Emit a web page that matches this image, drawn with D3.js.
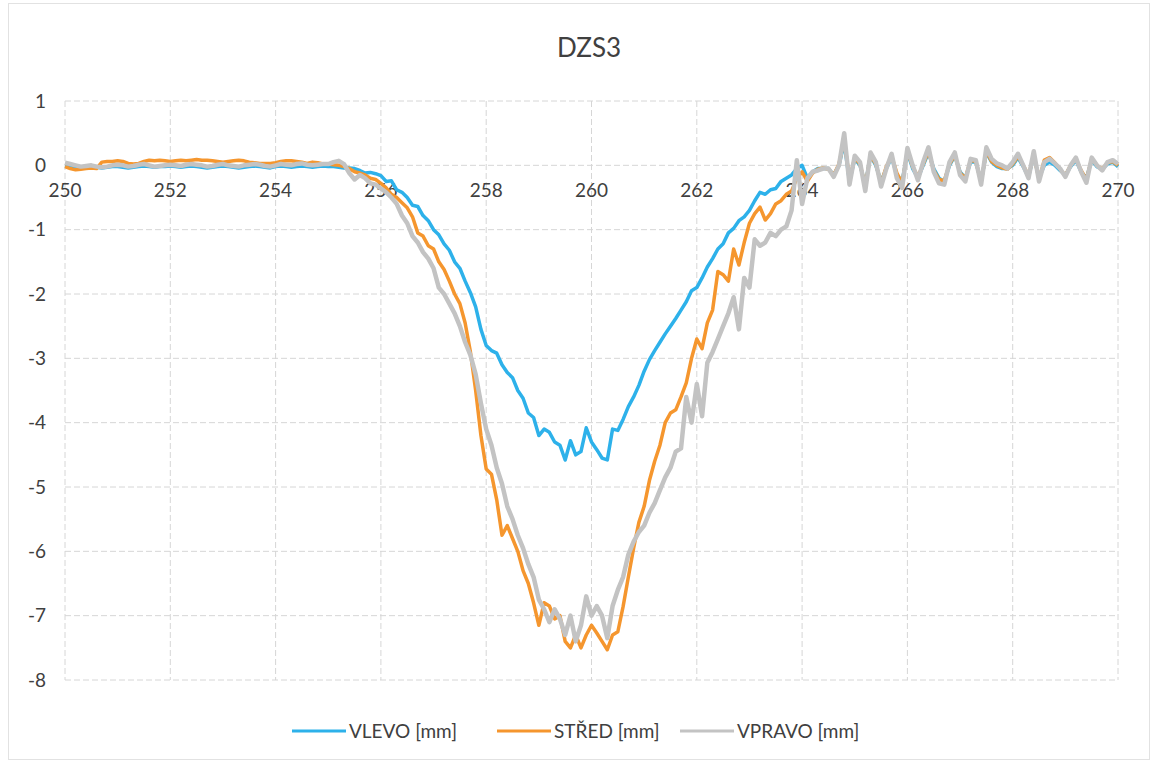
<!DOCTYPE html>
<html>
<head>
<meta charset="utf-8">
<script src="https://cdn.jsdelivr.net/npm/d3@7"></script>
<style>
  body { margin: 0; background: #fff; }
  svg { font-family: Lato, "Open Sans", sans-serif; }
</style>
</head>
<body>
<svg></svg>
<script>
// x runs 250.0 .. 270.0 in steps of 0.1 (201 readings per series)
var xStart = 250;
var xStep = 0.1;

var vlevo = [
  -0.01,-0.02,-0.03,-0.03,-0.02,-0.02,-0.03,-0.04,-0.03,-0.02,
  -0.02,-0.03,-0.04,-0.03,-0.02,-0.01,-0.02,-0.03,-0.02,-0.02,
  -0.01,-0.02,-0.03,-0.02,-0.01,-0.02,-0.03,-0.04,-0.03,-0.02,
  -0.01,-0.02,-0.03,-0.04,-0.03,-0.02,-0.01,-0.02,-0.03,-0.04,
  -0.02,-0.01,-0.02,-0.03,-0.02,-0.01,-0.02,-0.03,-0.02,-0.01,
  -0.02,-0.02,-0.03,-0.04,-0.04,-0.05,-0.08,-0.12,-0.11,-0.13,
  -0.16,-0.25,-0.24,-0.38,-0.42,-0.5,-0.62,-0.64,-0.78,-0.86,
  -1.0,-1.08,-1.22,-1.32,-1.5,-1.6,-1.8,-1.98,-2.2,-2.55,
  -2.8,-2.88,-2.92,-3.1,-3.22,-3.3,-3.5,-3.62,-3.85,-3.92,
  -4.2,-4.1,-4.15,-4.3,-4.35,-4.58,-4.28,-4.5,-4.45,-4.08,
  -4.3,-4.42,-4.55,-4.58,-4.1,-4.12,-3.95,-3.75,-3.6,-3.42,
  -3.2,-3.02,-2.88,-2.75,-2.62,-2.5,-2.38,-2.25,-2.12,-1.95,
  -1.9,-1.75,-1.58,-1.45,-1.3,-1.22,-1.05,-0.98,-0.86,-0.8,
  -0.7,-0.55,-0.42,-0.45,-0.38,-0.36,-0.25,-0.2,-0.15,-0.05,
  0.0,-0.2,-0.1,-0.05,-0.05,-0.05,-0.15,0.0,0.35,-0.25,
  0.1,0.0,-0.3,0.15,0.0,-0.25,-0.05,0.12,-0.15,-0.25,
  0.2,-0.05,-0.2,0.0,0.2,-0.05,-0.2,-0.25,0.0,0.15,
  -0.1,-0.2,0.05,0.05,-0.25,0.2,0.05,-0.02,-0.05,-0.05,
  0.0,0.12,-0.02,-0.18,0.15,-0.2,0.0,0.05,0.0,-0.08,
  -0.15,-0.02,0.08,-0.1,-0.2,0.08,-0.02,-0.06,0.02,0.05,
  -0.02
];

var stred = [
  -0.02,-0.05,-0.07,-0.06,-0.05,-0.04,-0.05,0.05,0.06,0.06,
  0.07,0.06,0.03,0.02,0.03,0.06,0.08,0.07,0.08,0.07,
  0.06,0.07,0.08,0.07,0.08,0.09,0.08,0.08,0.07,0.06,
  0.05,0.06,0.07,0.08,0.07,0.05,0.04,0.03,0.03,0.03,
  0.04,0.06,0.07,0.07,0.06,0.05,0.03,0.05,0.04,0.02,
  0.02,0.01,0.0,-0.02,-0.05,-0.1,-0.12,-0.15,-0.2,-0.22,
  -0.28,-0.35,-0.45,-0.5,-0.58,-0.66,-0.8,-1.05,-1.1,-1.25,
  -1.3,-1.5,-1.62,-1.8,-2.0,-2.15,-2.45,-2.9,-3.5,-4.2,
  -4.72,-4.8,-5.2,-5.75,-5.6,-5.8,-6.0,-6.3,-6.5,-6.8,
  -7.15,-6.8,-6.85,-7.05,-7.0,-7.4,-7.5,-7.3,-7.5,-7.3,
  -7.15,-7.27,-7.4,-7.53,-7.3,-7.25,-6.86,-6.4,-5.95,-5.55,
  -5.3,-4.9,-4.6,-4.35,-4.0,-3.85,-3.8,-3.6,-3.38,-3.0,
  -2.7,-2.85,-2.45,-2.25,-1.65,-1.7,-1.8,-1.3,-1.55,-1.2,
  -0.9,-0.75,-0.65,-0.85,-0.75,-0.6,-0.55,-0.45,-0.4,-0.2,
  -0.1,-0.25,-0.12,-0.06,-0.04,-0.06,-0.15,0.02,0.4,-0.22,
  0.12,0.02,-0.32,0.16,0.02,-0.28,-0.02,0.14,-0.12,-0.28,
  0.22,-0.02,-0.18,0.02,0.22,-0.08,-0.22,-0.24,0.02,0.16,
  -0.12,-0.2,0.08,0.06,-0.26,0.22,0.06,0.0,-0.04,-0.06,
  0.02,0.14,0.0,-0.16,0.16,-0.22,0.08,0.12,0.04,-0.06,
  -0.16,0.0,0.1,-0.08,-0.22,0.1,0.0,-0.06,0.04,0.06,
  0.0
];

var vpravo = [
  0.04,0.02,0.0,-0.02,-0.01,0.0,-0.02,-0.03,-0.02,0.0,
  0.01,0.0,-0.02,-0.01,0.01,0.02,0.0,-0.02,-0.01,0.0,
  0.01,0.0,-0.01,0.01,0.02,0.01,0.0,-0.02,-0.01,0.01,
  0.02,0.0,-0.01,-0.02,0.0,0.01,0.02,0.01,-0.01,-0.02,
  0.0,0.02,0.01,0.0,0.02,0.03,0.01,0.0,0.01,0.02,
  0.02,0.05,0.07,0.02,-0.12,-0.22,-0.15,-0.2,-0.28,-0.3,
  -0.36,-0.42,-0.5,-0.6,-0.78,-0.9,-1.1,-1.2,-1.35,-1.45,
  -1.6,-1.9,-2.0,-2.15,-2.3,-2.5,-2.75,-2.95,-3.25,-3.7,
  -4.1,-4.35,-4.7,-4.95,-5.3,-5.5,-5.75,-5.95,-6.2,-6.4,
  -6.75,-6.9,-7.1,-6.9,-7.05,-7.3,-7.0,-7.4,-7.15,-6.7,
  -7.0,-6.85,-7.0,-7.35,-6.85,-6.6,-6.4,-6.05,-5.85,-5.7,
  -5.6,-5.4,-5.25,-5.05,-4.85,-4.7,-4.45,-4.4,-3.6,-4.0,
  -3.4,-3.9,-3.07,-2.9,-2.7,-2.5,-2.3,-2.05,-2.55,-1.75,
  -1.9,-1.15,-1.25,-1.2,-1.05,-1.1,-1.0,-0.95,-0.7,0.08,
  -0.6,-0.2,-0.1,-0.08,-0.05,-0.05,-0.18,0.0,0.5,-0.3,
  0.15,0.05,-0.4,0.2,0.05,-0.33,-0.05,0.18,-0.2,-0.35,
  0.27,0.0,-0.23,0.05,0.28,-0.1,-0.28,-0.3,0.05,0.2,
  -0.15,-0.25,0.1,0.08,-0.3,0.28,0.1,0.03,0.0,-0.05,
  0.05,0.18,0.0,-0.2,0.22,-0.25,0.05,0.1,0.03,-0.05,
  -0.18,0.0,0.12,-0.1,-0.27,0.12,0.0,-0.08,0.05,0.08,
  0.02
];

var seriesNames = ["VLEVO [mm]", "STŘED [mm]", "VPRAVO [mm]"];
var seriesColors = ["#2db1ea", "#f5962e", "#c3c3c3"];
var xTicks = [250, 252, 254, 256, 258, 260, 262, 264, 266, 268, 270];
var yTicks = [1, 0, -1, -2, -3, -4, -5, -6, -7, -8];

var width = 1158, height = 764;
var svg = d3.select("svg").attr("width", width).attr("height", height);

// faint chart border
svg.append("rect")
   .attr("x", 8.5).attr("y", 3.5)
   .attr("width", 1141).attr("height", 756)
   .attr("fill", "none").attr("stroke", "#e2e2e2");

var xScale = d3.scaleLinear().domain([250, 270]).range([65, 1118]);
var yScale = d3.scaleLinear().domain([1, -8]).range([101, 680]);

// gridlines
svg.append("g").selectAll("line")
   .data(yTicks).enter().append("line")
   .attr("x1", xScale(250)).attr("x2", xScale(270))
   .attr("y1", function(d){ return yScale(d); })
   .attr("y2", function(d){ return yScale(d); })
   .attr("stroke", "#d6d6d6")
   .attr("stroke-dasharray", "6,3");

svg.append("g").selectAll("line")
   .data(xTicks).enter().append("line")
   .attr("x1", function(d){ return xScale(d); })
   .attr("x2", function(d){ return xScale(d); })
   .attr("y1", yScale(1)).attr("y2", yScale(-8))
   .attr("stroke", "#d6d6d6")
   .attr("stroke-dasharray", "6,3");

// y labels
svg.append("g").selectAll("text")
   .data(yTicks).enter().append("text")
   .attr("x", 46)
   .attr("y", function(d){ return yScale(d); })
   .attr("dy", "0.35em")
   .attr("text-anchor", "end")
   .attr("font-size", 19)
   .attr("fill", "#404040")
   .text(function(d){ return d; });

// x labels sit under the zero line
svg.append("g").selectAll("text")
   .data(xTicks).enter().append("text")
   .attr("x", function(d){ return xScale(d); })
   .attr("y", yScale(0) + 32)
   .attr("text-anchor", "middle")
   .attr("font-size", 19)
   .attr("fill", "#404040")
   .text(function(d){ return d; });

var line = d3.line()
             .x(function(d, i){ return xScale(xStart + i * xStep); })
             .y(function(d){ return yScale(d); });

var allSeries = [vlevo, stred, vpravo];
var widths = [3.5, 3.5, 4.5];

svg.append("g").selectAll("path")
   .data(allSeries).enter().append("path")
   .attr("d", function(d){ return line(d); })
   .attr("fill", "none")
   .attr("stroke", function(d, i){ return seriesColors[i]; })
   .attr("stroke-width", function(d, i){ return widths[i]; })
   .attr("stroke-linejoin", "round");

// title
svg.append("text")
   .attr("x", 589).attr("y", 57)
   .attr("text-anchor", "middle")
   .attr("font-size", 26)
   .attr("fill", "#404040")
   .text("DZS3");

// legend
var legendX = [292, 497, 680];
var legend = svg.append("g").selectAll("g")
   .data(seriesNames).enter().append("g")
   .attr("transform", function(d, i){ return "translate(" + legendX[i] + ",731)"; });

legend.append("line")
   .attr("x1", 0).attr("x2", 54)
   .attr("stroke", function(d, i){ return seriesColors[i]; })
   .attr("stroke-width", 3);

legend.append("text")
   .attr("x", 57).attr("dy", "0.35em")
   .attr("font-size", 19)
   .attr("fill", "#404040")
   .text(function(d){ return d; });
</script>
</body>
</html>
